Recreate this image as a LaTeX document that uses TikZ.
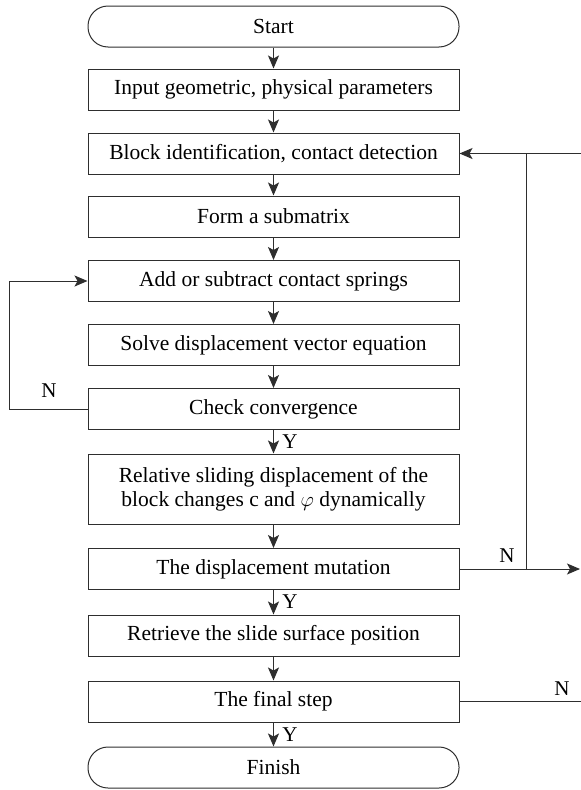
\documentclass[tikz,border=0pt]{standalone}
\usepackage{fontspec}
\setmainfont{Liberation Serif}
\usetikzlibrary{arrows.meta}
\definecolor{linec}{gray}{0.18}
\tikzset{
  proc/.style={draw=linec, line width=1pt, minimum width=371pt, minimum height=41pt,
    inner sep=0pt, align=center, font=\fontsize{21.5}{24}\selectfont},
  term/.style={proc, rounded corners=20pt},
  conn/.style={draw=linec, line width=1pt},
  flow/.style={conn, -{Stealth[length=13pt,width=11pt,inset=3pt]}},
  lab/.style={inner sep=0pt, font=\fontsize{21}{24}\selectfont},
}
\begin{document}
\begin{tikzpicture}[x=1pt,y=-1pt]
\useasboundingbox (0,0) rectangle (581,790);
% main column
\node[term] (start)  at (273.5,26.5)  {Start};
\node[proc] (input)  at (273.5,89.5)  {Input geometric, physical parameters};
\node[proc] (block)  at (273.5,153.5) {Block identification, contact detection};
\node[proc] (form)   at (273.5,216.5) {Form a submatrix};
\node[proc] (add)    at (273.5,281)   {Add or subtract contact springs};
\node[proc] (solve)  at (273.5,345)   {Solve displacement vector equation};
\node[proc] (check)  at (273.5,409)   {Check convergence};
\node[proc, minimum height=70pt] (rel) at (273.5,489)
  {Relative sliding displacement of the\\block changes c and $\varphi$ dynamically};
\node[proc] (mut)    at (273.5,569)   {The displacement mutation};
\node[proc] (ret)    at (273.5,635.5) {Retrieve the slide surface position};
\node[proc] (fin)    at (273.5,701.5) {The final step};
\node[term] (finish) at (273.5,767.5) {Finish};

% downward flow
\draw[flow] (start) -- (input);
\draw[flow] (input) -- (block);
\draw[flow] (block) -- (form);
\draw[flow] (form) -- (add);
\draw[flow] (add) -- (solve);
\draw[flow] (solve) -- (check);
\draw[flow] (check) -- (rel);
\draw[flow] (rel) -- (mut);
\draw[flow] (mut) -- (ret);
\draw[flow] (ret) -- (fin);
\draw[flow] (fin) -- (finish);

% side routes
\coordinate (lx) at (9,0);
\coordinate (vx) at (526,0);
\coordinate (ax) at (580,0);
\coordinate (ex) at (581,0);
\draw[flow] (check.west) -- (check.west -| lx) -- (add.west -| lx) -- (add.west);
\draw[flow] (mut.east) -- (mut.east -| ax);
\draw[conn] (mut.east -| vx) -- (block.east -| vx);
\draw[flow] (block.east -| ex) -- (block.east);
\draw[conn] (fin.east) -- (fin.east -| ex);

% branch labels
\node[lab] (y1) at (290,442)   {Y};
\node[lab] (y2) at (290,602)   {Y};
\node[lab] (y3) at (290,735)   {Y};
\node[lab] (n1) at (49,391)    {N};
\node[lab] (n2) at (507,556)   {N};
\node[lab] (n3) at (562,689)   {N};
\end{tikzpicture}
\end{document}
